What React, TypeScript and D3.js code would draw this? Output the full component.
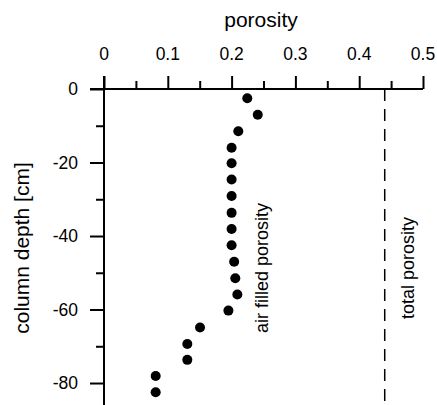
import React, {useEffect, useRef} from 'react';
import * as d3 from "d3"

// measured points: air filled porosity against column depth
const depth = [-2.5, -7, -11.5, -16, -20.2, -24.6, -29.1, -33.7, -38.1, -42.5, -47, -51.5, -55.9, -60.3, -64.9, -69.4, -73.7, -78.1, -82.5]
const airPorosity = [0.2246, 0.241, 0.2105, 0.2, 0.2, 0.2, 0.2, 0.2, 0.2, 0.2, 0.204, 0.2058, 0.209, 0.195, 0.1505, 0.1306, 0.1306, 0.081, 0.081]
const totalPorosity = 0.44
const xTicks = [0, 0.1, 0.2, 0.3, 0.4, 0.5]
const xTickLabels = ["0", "0.1", "0.2", "0.3", "0.4", "0.5"]
const yTicks = [0, -20, -40, -60, -80]
const yTickLabels = ["0", "-20", "-40", "-60", "-80"]

const App = () => {
  const ref = useRef<SVGSVGElement>(null)

  useEffect(() => {
    const width = 437
    const height = 405
    const svg = d3.select(ref.current)
    svg.selectAll("*").remove()

    const font = "'Liberation Sans', Arial, sans-serif"

    // scales
    const x = d3.scaleLinear().domain([0, 0.5]).range([104, 423])
    const y = d3.scaleLinear().domain([0, -85]).range([89, 401.4])

    // total porosity dashed line
    svg.append("line")
      .attr("x1", x(totalPorosity)).attr("x2", x(totalPorosity))
      .attr("y1", y(0)).attr("y2", height)
      .attr("stroke", "#000")
      .attr("stroke-width", 1.5)
      .attr("stroke-dasharray", "12,8")

    // x axis on top
    const xAxis = (g:any) => g
      .attr("transform", `translate(0,${y(0)})`)
      .call(d3.axisTop(x).tickValues(d3.range(0, 0.501, 0.05)).tickSize(8).tickFormat(() => "").tickSizeOuter(0))
      .call((g:any) => g.selectAll(".tick line").filter((d:number) => Math.abs(Math.round(d * 10) - d * 10) < 1e-6).attr("y2", -13))
      .call((g:any) => g.select(".domain").attr("d", `M${x(0) - 14},0H${x(0.5)}`))
      .call((g:any) => g.selectAll("path, line").attr("stroke-width", 2))

    // y axis on left
    const yAxis = (g:any) => g
      .attr("transform", `translate(${x(0)},0)`)
      .call(d3.axisLeft(y).tickValues(d3.range(0, -81, -10)).tickSize(8).tickFormat(() => "").tickSizeOuter(0))
      .call((g:any) => g.selectAll(".tick line").filter((d:number) => d % 20 === 0).attr("x2", -14))
      .call((g:any) => g.select(".domain").attr("d", `M0,${y(0) - 13}V${height}`))
      .call((g:any) => g.selectAll("path, line").attr("stroke-width", 2))

    svg.append("g").call(xAxis)
    svg.append("g").call(yAxis)

    // tick labels
    svg.append("g").selectAll("text")
      .data(xTicks)
      .join("text")
      .attr("x", d => x(d))
      .attr("y", 60)
      .attr("text-anchor", "middle")
      .attr("font-family", font)
      .attr("font-size", 17.5)
      .text((d, i) => xTickLabels[i])

    svg.append("g").selectAll("text")
      .data(yTicks)
      .join("text")
      .attr("x", 78)
      .attr("y", d => y(d))
      .attr("dy", "0.35em")
      .attr("text-anchor", "end")
      .attr("font-family", font)
      .attr("font-size", 17.5)
      .text((d, i) => yTickLabels[i])

    // axis titles
    svg.append("text")
      .attr("x", 261).attr("y", 27)
      .attr("text-anchor", "middle")
      .attr("font-family", font)
      .attr("font-size", 21)
      .text("porosity")

    svg.append("text")
      .attr("transform", `translate(29,248) rotate(-90)`)
      .attr("text-anchor", "middle")
      .attr("font-family", font)
      .attr("font-size", 21)
      .text("column depth [cm]")

    // annotations
    svg.append("text")
      .attr("transform", `translate(268,268) rotate(-90)`)
      .attr("text-anchor", "middle")
      .attr("font-family", font)
      .attr("font-size", 18)
      .text("air filled porosity")

    svg.append("text")
      .attr("transform", `translate(414,268) rotate(-90)`)
      .attr("text-anchor", "middle")
      .attr("font-family", font)
      .attr("font-size", 18)
      .text("total porosity")

    // dots
    svg.append("g")
      .attr("fill", "#000")
      .selectAll("circle")
      .data(depth)
      .join("circle")
      .attr("cx", (d, i) => x(airPorosity[i]))
      .attr("cy", d => y(d))
      .attr("r", 5)
  }, [])

  return (
    <svg
      ref={ref}
      width={437}
      height={405}
      style={{position: "absolute", left: 0, top: 0, background: "#fff"}}
    />
  )
}
export default App;
